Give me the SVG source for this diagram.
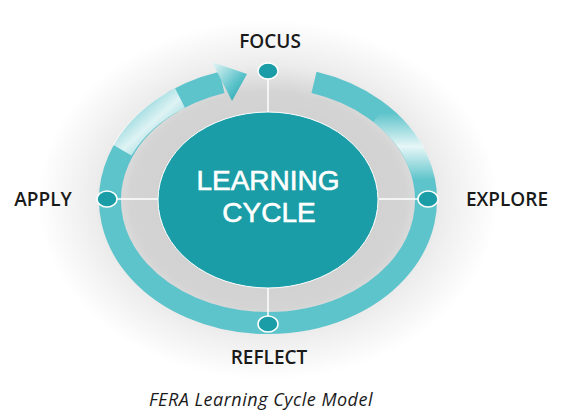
<svg xmlns="http://www.w3.org/2000/svg" width="577" height="413" viewBox="0 0 577 413">
<defs>
<radialGradient id="glow" cx="0.5" cy="0.5" r="0.5">
<stop offset="0" stop-color="#c9c9c9"/>
<stop offset="0.6" stop-color="#d4d4d4"/>
<stop offset="0.75" stop-color="#ececec"/>
<stop offset="1" stop-color="#ffffff"/>
</radialGradient>
<linearGradient id="hlR" x1="0" y1="0" x2="0" y2="1">
<stop offset="0" stop-color="#ffffff" stop-opacity="0"/>
<stop offset="0.5" stop-color="#ffffff" stop-opacity="0.85"/>
<stop offset="1" stop-color="#ffffff" stop-opacity="0"/>
</linearGradient>
<linearGradient id="hlL" x1="0" y1="0" x2="1" y2="1">
<stop offset="0" stop-color="#ffffff" stop-opacity="0"/>
<stop offset="0.5" stop-color="#ffffff" stop-opacity="0.8"/>
<stop offset="1" stop-color="#ffffff" stop-opacity="0"/>
</linearGradient>
<linearGradient id="arrowG" x1="0" y1="0" x2="1" y2="1">
<stop offset="0" stop-color="#e9f7f8"/>
<stop offset="0.6" stop-color="#5cc3ca"/>
<stop offset="1" stop-color="#1a9da6"/>
</linearGradient>
<style>
.lbl{font-family:"Open Sans","Liberation Sans",sans-serif;font-size:19px;font-weight:600;fill:#1a1a1a;text-anchor:middle}
.ctr{font-family:"Liberation Sans",Arial,sans-serif;font-size:28px;fill:#ffffff;stroke:#ffffff;stroke-width:0.6;text-anchor:middle}
.dot{fill:#1a9da6;stroke:#ffffff;stroke-width:1.5}
.conn{stroke:#ffffff;stroke-width:1.5;fill:none}
</style>
</defs>
<rect width="577" height="413" fill="#ffffff"/>
<ellipse cx="268" cy="200" rx="230" ry="180" fill="url(#glow)"/>
<g id="ring">
<path d="M 314 82.4 A 158 123 0 1 1 222 82.4" fill="none" stroke="#5ec4cb" stroke-width="22"/>
<path d="M 380 113 A 158 123 0 0 1 424 180" fill="none" stroke="url(#hlR)" stroke-width="22"/>
<path d="M 122 150 A 158 123 0 0 1 180 98" fill="none" stroke="url(#hlL)" stroke-width="22"/>
<polygon points="212,62 247,74 232,101" fill="url(#arrowG)"/>
</g>
<g id="connectors">
<line class="conn" x1="268" y1="79" x2="268" y2="112"/>
<line class="conn" x1="268" y1="287" x2="268" y2="316"/>
<line class="conn" x1="117" y1="199" x2="158" y2="199"/>
<line class="conn" x1="379" y1="199" x2="418" y2="199"/>
</g>
<g id="center">
<ellipse cx="268" cy="200" rx="110" ry="88" fill="#1a9da6" stroke="#ffffff" stroke-width="1"/>
<text class="ctr" x="268" y="190">LEARNING</text>
<text class="ctr" x="269" y="222">CYCLE</text>
</g>
<g id="focus">
<ellipse class="dot" cx="268" cy="71" rx="10" ry="8"/>
<text class="lbl" x="270" y="48">FOCUS</text>
</g>
<g id="explore">
<ellipse class="dot" cx="428" cy="199" rx="10" ry="8"/>
<text class="lbl" x="507" y="206">EXPLORE</text>
</g>
<g id="reflect">
<ellipse class="dot" cx="268" cy="324" rx="10" ry="8"/>
<text class="lbl" x="269" y="364">REFLECT</text>
</g>
<g id="apply">
<ellipse class="dot" cx="107" cy="199" rx="10" ry="8"/>
<text class="lbl" x="43" y="206">APPLY</text>
</g>
<text x="261" y="406" font-family="'Open Sans','Liberation Sans',sans-serif" font-size="18" font-style="italic" letter-spacing="0.5" fill="#1a1a1a" text-anchor="middle">FERA Learning Cycle Model</text>
</svg>
